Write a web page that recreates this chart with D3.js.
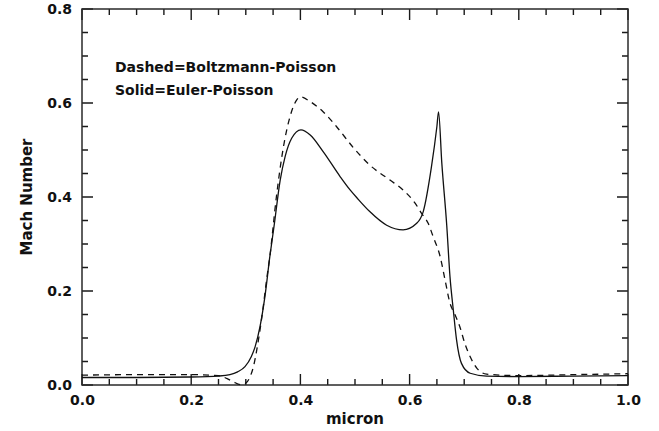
<!DOCTYPE html>
<html>
<head>
<meta charset="utf-8">
<script src="https://cdn.jsdelivr.net/npm/d3@7"></script>
<style>
  body { margin: 0; background: #fff; }
</style>
</head>
<body>
<div id="vis"></div>
<script>
// Euler-Poisson (solid)
const eulerX = [0.0, 0.1, 0.2, 0.25, 0.271, 0.285, 0.2985, 0.31, 0.317, 0.326, 0.335, 0.344, 0.352, 0.363, 0.372, 0.384, 0.401, 0.418, 0.442, 0.473, 0.491, 0.506, 0.527, 0.558, 0.588, 0.613, 0.625, 0.64, 0.65, 0.653, 0.659, 0.668, 0.674, 0.68, 0.686, 0.695, 0.711, 0.741, 0.8, 0.9, 1.0]
const eulerY = [0.016, 0.016, 0.017, 0.019, 0.022, 0.028, 0.039, 0.06, 0.081, 0.124, 0.188, 0.273, 0.34, 0.436, 0.486, 0.525, 0.543, 0.532, 0.496, 0.443, 0.415, 0.395, 0.369, 0.34, 0.33, 0.344, 0.369, 0.464, 0.55, 0.581, 0.472, 0.34, 0.23, 0.16, 0.096, 0.046, 0.025, 0.019, 0.018, 0.019, 0.02]

// Boltzmann-Poisson (dashed)
const boltzX = [0.0, 0.1, 0.2, 0.25, 0.265, 0.277, 0.29, 0.3, 0.308, 0.314, 0.32, 0.326, 0.332, 0.338, 0.344, 0.356, 0.369, 0.381, 0.393, 0.4, 0.418, 0.442, 0.466, 0.497, 0.527, 0.564, 0.588, 0.61, 0.622, 0.634, 0.643, 0.656, 0.665, 0.674, 0.683, 0.692, 0.701, 0.711, 0.723, 0.741, 0.8, 0.9, 1.0]
const boltzY = [0.021, 0.022, 0.022, 0.02, 0.014, 0.007, 0.001, 0.004, 0.018, 0.039, 0.074, 0.117, 0.167, 0.223, 0.273, 0.40, 0.507, 0.571, 0.606, 0.613, 0.603, 0.581, 0.55, 0.505, 0.468, 0.436, 0.415, 0.387, 0.365, 0.344, 0.316, 0.273, 0.223, 0.174, 0.15, 0.124, 0.089, 0.06, 0.036, 0.023, 0.02, 0.022, 0.024]

const xMajor = [0, 0.2, 0.4, 0.6, 0.8, 1.0]
const yMajor = [0, 0.2, 0.4, 0.6, 0.8]
const xMinor = [0.05, 0.1, 0.15, 0.25, 0.3, 0.35, 0.45, 0.5, 0.55, 0.65, 0.7, 0.75, 0.85, 0.9, 0.95]
const yMinor = [0.05, 0.1, 0.15, 0.25, 0.3, 0.35, 0.45, 0.5, 0.55, 0.65, 0.7, 0.75]

const legendLines = ['Dashed=Boltzmann-Poisson', 'Solid=Euler-Poisson']

const W = 659, H = 431
const margin = {left: 82, top: 9, right: 31, bottom: 46}
const width = W - margin.left - margin.right
const height = H - margin.top - margin.bottom
const font = "'DejaVu Sans', sans-serif"

const svg = d3.select('#vis').append('svg')
    .attr('width', W)
    .attr('height', H)

const g = svg.append('g')
    .attr('transform', `translate(${margin.left},${margin.top})`)

const x = d3.scaleLinear().domain([0, 1]).range([0, width])
const y = d3.scaleLinear().domain([0, 0.8]).range([height, 0])

// tick labels via d3 axes
function styleAxis(sel) {
    sel.attr('font-family', font)
        .attr('font-size', 14)
        .attr('font-weight', 'bold')
    sel.select('.domain').remove()
    sel.selectAll('text').attr('fill', '#111')
}

g.append('g').attr('transform', `translate(0,${height})`)
    .call(d3.axisBottom(x).tickValues(xMajor).tickSize(0).tickPadding(10).tickFormat(d3.format('.1f')))
    .call(styleAxis)
g.append('g')
    .call(d3.axisLeft(y).tickValues(yMajor).tickSize(0).tickPadding(10).tickFormat(d3.format('.1f')))
    .call(styleAxis)

// inward ticks on all four sides, as one path
const tp = d3.path()
function addX(vals, len) {
    vals.forEach(v => {
        tp.moveTo(x(v), height); tp.lineTo(x(v), height - len)
        tp.moveTo(x(v), 0); tp.lineTo(x(v), len)
    })
}
function addY(vals, len) {
    vals.forEach(v => {
        tp.moveTo(0, y(v)); tp.lineTo(len, y(v))
        tp.moveTo(width, y(v)); tp.lineTo(width - len, y(v))
    })
}
addX(xMinor, 6)
addX(xMajor, 11)
addY(yMinor, 6)
addY(yMajor, 11)

g.append('path')
    .attr('d', tp.toString())
    .attr('fill', 'none')
    .attr('stroke', '#1a1a1a')
    .attr('stroke-width', 1.4)

// frame
g.append('rect')
    .attr('x', 0).attr('y', 0)
    .attr('width', width).attr('height', height)
    .attr('fill', 'none')
    .attr('stroke', '#2a2a2a')
    .attr('stroke-width', 1.5)

// curves
const line = d3.line()
    .x(d => x(d[0]))
    .y(d => y(d[1]))
    .curve(d3.curveMonotoneX)

g.append('path')
    .datum(boltzX.map((v, i) => [v, boltzY[i]]))
    .attr('fill', 'none')
    .attr('stroke', '#111')
    .attr('stroke-width', 1.3)
    .attr('stroke-dasharray', '6,5')
    .attr('d', line)

g.append('path')
    .datum(eulerX.map((v, i) => [v, eulerY[i]]))
    .attr('fill', 'none')
    .attr('stroke', '#111')
    .attr('stroke-width', 1.3)
    .attr('d', line)

// legend text
g.selectAll('.legend')
    .data(legendLines)
    .enter()
    .append('text')
    .attr('class', 'legend')
    .attr('x', 33)
    .attr('y', (d, i) => 63 + i * 23)
    .attr('font-family', font)
    .attr('font-size', 14)
    .attr('font-weight', 'bold')
    .attr('fill', '#111')
    .text(d => d)

// axis titles
svg.append('text')
    .attr('x', margin.left + width / 2)
    .attr('y', 424)
    .attr('text-anchor', 'middle')
    .attr('font-family', font)
    .attr('font-size', 15)
    .attr('font-weight', 'bold')
    .attr('fill', '#111')
    .text('micron')

svg.append('text')
    .attr('transform', `translate(32,${margin.top + height / 2}) rotate(-90)`)
    .attr('text-anchor', 'middle')
    .attr('font-family', font)
    .attr('font-size', 15)
    .attr('font-weight', 'bold')
    .attr('fill', '#111')
    .text('Mach Number')
</script>
</body>
</html>
